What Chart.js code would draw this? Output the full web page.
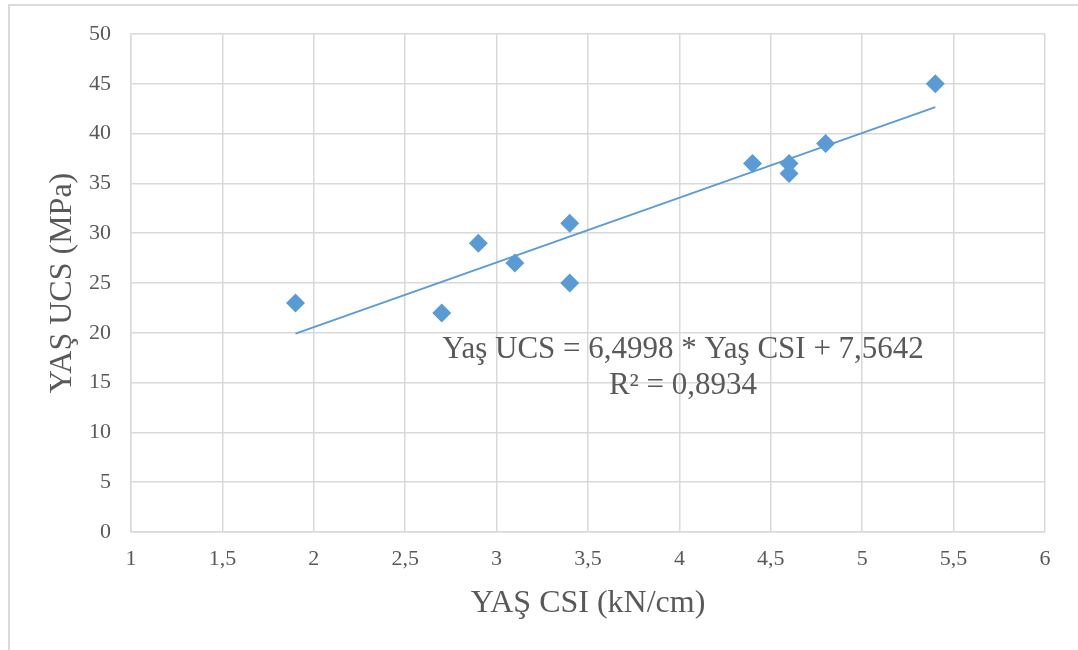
<!DOCTYPE html>
<html>
<head>
<meta charset="utf-8">
<script src="https://cdn.jsdelivr.net/npm/chart.js@4/dist/chart.umd.min.js"></script>
<style>
  html, body { margin: 0; padding: 0; background: #fff; overflow: hidden; }
  #frame {
    position: absolute; left: 8px; top: 4px; width: 1070px; height: 646px;
    border-left: 2px solid #dadada; border-top: 2px solid #dadada;
    box-sizing: border-box;
  }
  #wrap { position: absolute; left: 0; top: 0; width: 1078px; height: 650px; }
</style>
</head>
<body>
<div id="frame"></div>
<div id="wrap"><canvas id="csiChart" width="1078" height="650"></canvas></div>
<script>
// measured points (YAŞ CSI, YAŞ UCS)
const csiValues = [1.9, 2.7, 2.9, 3.1, 3.4, 3.4, 4.4, 4.6, 4.6, 4.8, 5.4];
const ucsValues = [23, 22, 29, 27, 31, 25, 37, 37, 36, 39, 45];

// trendline from the printed equation
const slope = 6.4998;
const intercept = 7.5642;
const trendX = [1.9, 5.4];

const eqLines = ["Yaş UCS = 6,4998 * Yaş CSI + 7,5642", "R² = 0,8934"];

const xTitle = "YAŞ CSI (kN/cm)";
const yTitle = "YAŞ UCS (MPa)";

const textColor = "#595959";
const gridColor = "#d9d9d9";
const blue = "#5b9bd5";
const serif = "'Liberation Serif', 'Times New Roman', serif";

const points = csiValues.map((x, i) => ({ x: x, y: ucsValues[i] }));
const trend = trendX.map(x => ({ x: x, y: slope * x + intercept }));

const comma = v => String(v).replace(".", ",");

const equationLabel = {
    id: "equationLabel",
    afterDatasetsDraw(chart) {
        const ctx = chart.ctx;
        ctx.save();
        ctx.fillStyle = textColor;
        ctx.font = "31px " + serif;
        ctx.textAlign = "center";
        ctx.textBaseline = "middle";
        ctx.fillText(eqLines[0], 683, 350);
        ctx.fillText(eqLines[1], 683, 386);
        ctx.restore();
    }
};

new Chart(document.getElementById("csiChart"), {
    type: "scatter",
    data: {
        datasets: [
            {
                label: "Trend",
                type: "line",
                data: trend,
                borderColor: blue,
                borderWidth: 1.8,
                pointRadius: 0,
                fill: false,
                order: 2
            },
            {
                label: "Yaş UCS",
                data: points,
                pointStyle: "rectRot",
                pointRadius: 9.5,
                backgroundColor: blue,
                borderColor: blue,
                borderWidth: 0,
                order: 1
            }
        ]
    },
    options: {
        responsive: false,
        animation: false,
        devicePixelRatio: 1,
        layout: { padding: { left: 43, right: 33, top: 34, bottom: 27 } },
        plugins: {
            legend: { display: false },
            tooltip: { enabled: false }
        },
        scales: {
            x: {
                type: "linear",
                min: 1,
                max: 6,
                ticks: {
                    stepSize: 0.5,
                    color: textColor,
                    font: { family: serif, size: 22 },
                    padding: 14,
                    callback: v => comma(v)
                },
                grid: { color: gridColor, lineWidth: 1.5, drawTicks: false },
                border: { color: gridColor, width: 1.5 },
                title: {
                    display: true,
                    text: xTitle,
                    color: textColor,
                    font: { family: serif, size: 32 },
                    padding: 0
                },
                afterFit: s => { s.height = 91; }
            },
            y: {
                min: 0,
                max: 50,
                ticks: {
                    stepSize: 5,
                    color: textColor,
                    font: { family: serif, size: 22 },
                    padding: 20
                },
                grid: { color: gridColor, lineWidth: 1.5, drawTicks: false },
                border: { color: gridColor, width: 1.5 },
                title: {
                    display: true,
                    text: yTitle,
                    color: textColor,
                    font: { family: serif, size: 32 },
                    padding: 0
                },
                afterFit: s => { s.width = 88; }
            }
        }
    },
    plugins: [equationLabel]
});
</script>
</body>
</html>
